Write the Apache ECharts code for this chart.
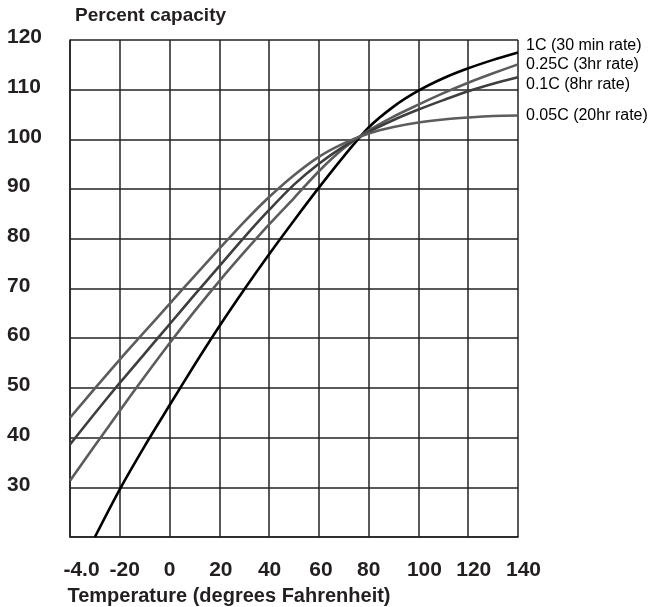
<!DOCTYPE html>
<html>
<head>
<meta charset="utf-8">
<script src="https://cdn.jsdelivr.net/npm/echarts@6/dist/echarts.min.js"></script>
<style>
  html, body { margin: 0; padding: 0; background: #ffffff; }
  #chart { width: 652px; height: 607px; }
</style>
</head>
<body>
<div id="chart"></div>
<script>
// ---- data ----
const temps = [-40, -30, -20, -10, 0, 10, 20, 30, 40, 50, 60, 70, 80, 90, 100, 110, 120, 130, 140];
const rate1C   = [null, 20.0, 29.6, 38.3, 46.5, 54.6, 62.4, 69.8, 76.9, 83.7, 90.3, 96.6, 102.4, 106.6, 109.8, 112.3, 114.3, 116.0, 117.5];
const rate025C = [31.3, 38.4, 45.4, 52.3, 59.0, 65.4, 71.5, 77.3, 82.9, 88.2, 93.6, 98.2, 101.8, 104.6, 107.0, 109.3, 111.4, 113.3, 115.1];
const rate01C  = [38.6, 44.9, 51.0, 56.9, 62.8, 68.7, 74.5, 80.3, 85.8, 90.9, 95.1, 98.6, 101.5, 103.9, 106.0, 107.9, 109.7, 111.2, 112.5];
const rate005C = [44.0, 49.9, 55.7, 61.3, 66.9, 72.5, 78.0, 83.4, 88.4, 92.8, 96.5, 99.2, 101.2, 102.5, 103.4, 104.0, 104.4, 104.7, 104.8];
const seriesNames = ['1C (30 min rate)', '0.25C (3hr rate)', '0.1C (8hr rate)', '0.05C (20hr rate)'];
const xTickValues = [-40, -20, 0, 20, 40, 60, 80, 100, 120, 140];
const xTickLabels = ['-4.0', '-20', '0', '20', '40', '60', '80', '100', '120', '140'];
const yTickValues = [30, 40, 50, 60, 70, 80, 90, 100, 110, 120];
const yTickLabels = ['30', '40', '50', '60', '70', '80', '90', '100', '110', '120'];
const xAxisTitle = 'Temperature (degrees Fahrenheit)';
const yAxisTitle = 'Percent capacity';

// ---- build ----
function pairs(vals) {
  return temps.map((t, i) => [t, vals[i]]);
}
const FONT = '"Liberation Sans", Arial, Helvetica, sans-serif';
const TXT = '#231f20';
const GRID = '#222222';

const xShift = [23, 10, 0, 3, 1, 4, 0, 12, 11, 11];
const xRich = {};
xShift.forEach((s, i) => {
  xRich['s' + i] = { fontSize: 21, fontWeight: 'bold', fontFamily: FONT, color: TXT, padding: [0, 0, 0, s] };
});

function lineSeries(name, vals, color, width, offY) {
  return {
    type: 'line',
    name: name,
    data: pairs(vals),
    smooth: 0.3,
    symbol: 'none',
    connectNulls: false,
    lineStyle: { color: color, width: width },
    itemStyle: { color: color },
    emphasis: { disabled: true },
    endLabel: {
      show: true,
      formatter: name,
      color: '#000',
      fontSize: 16,
      fontFamily: FONT,
      distance: 8,
      offset: [0, offY]
    },
    z: 3
  };
}

const chart = echarts.init(document.getElementById('chart'), null, { renderer: 'canvas' });
chart.setOption({
  animation: false,
  backgroundColor: '#ffffff',
  grid: { left: 70, top: 40, width: 448, height: 497, containLabel: false, outerBoundsMode: 'none' },
  xAxis: {
    type: 'value',
    min: -40, max: 140, interval: 20,
    name: xAxisTitle,
    nameLocation: 'middle',
    nameGap: 49,
    nameMoveOverlap: false,
    nameTextStyle: { fontSize: 20, fontWeight: 'bold', fontFamily: FONT, color: TXT, padding: [0, 130, 0, 0] },
    axisLine: { show: true, onZero: false, lineStyle: { color: GRID, width: 1.5 } },
    axisTick: { show: false },
    axisLabel: {
      margin: 23,
      fontSize: 21, fontWeight: 'bold', fontFamily: FONT, color: TXT,
      formatter: function (v) {
        const i = xTickValues.indexOf(v);
        return i < 0 ? '' : '{s' + i + '|' + xTickLabels[i] + '}';
      },
      rich: xRich
    },
    splitLine: { show: true, lineStyle: { color: GRID, width: 1.5 } }
  },
  yAxis: {
    type: 'value',
    min: 20, max: 120, interval: 10,
    name: yAxisTitle,
    nameLocation: 'end',
    nameGap: 15,
    nameMoveOverlap: false,
    nameTextStyle: { fontSize: 19, fontWeight: 'bold', fontFamily: FONT, color: TXT, align: 'left', padding: [0, 0, 0, 5] },
    axisLine: { show: true, onZero: false, lineStyle: { color: GRID, width: 1.5 } },
    axisTick: { show: false },
    axisLabel: {
      margin: 63,
      align: 'left',
      fontSize: 21, fontWeight: 'bold', fontFamily: FONT, color: TXT,
      formatter: function (v) {
        const i = yTickValues.indexOf(v);
        return i < 0 ? '' : '{y|' + yTickLabels[i] + '}';
      },
      rich: {
        y: { fontSize: 21, fontWeight: 'bold', fontFamily: FONT, color: TXT, padding: [0, 0, 5, 0] }
      }
    },
    splitLine: { show: true, lineStyle: { color: GRID, width: 1.5 } }
  },
  series: [
    lineSeries(seriesNames[0], rate1C, '#000000', 2.6, -7),
    lineSeries(seriesNames[1], rate025C, '#5c5c5c', 2.6, 0),
    lineSeries(seriesNames[2], rate01C, '#3e3e3e', 2.6, 7),
    lineSeries(seriesNames[3], rate005C, '#5c5c5c', 2.6, 0)
  ]
});
</script>
</body>
</html>
